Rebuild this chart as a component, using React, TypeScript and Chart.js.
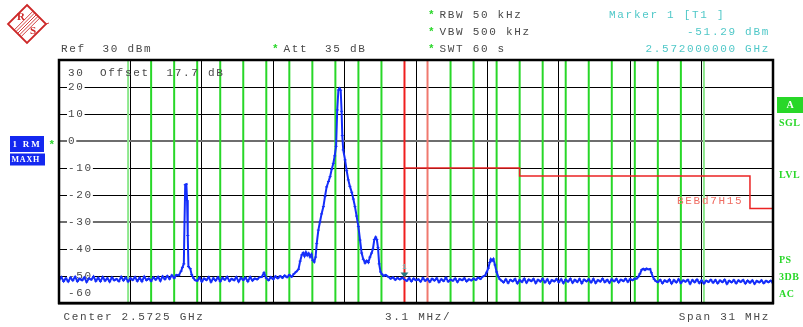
import { useEffect, useRef } from "react";
import { Chart, registerables } from "chart.js";
Chart.register(...registerables);

// ---- axes (MHz / dBm) ----
const FREQ_START = 2557.0;
const FREQ_STOP = 2588.0;
const LEVEL_MIN = -60;
const LEVEL_MAX = 30;
const gridFreqs = [2557, 2560.1, 2563.2, 2566.3, 2569.4, 2572.5, 2575.6, 2578.7, 2581.8, 2584.9, 2588];
const levelTickLabels = ["30", "20", "10", "0", "-10", "-20", "-30", "-40", "-50", "-60"];

// ---- display lines ----
const channelLines = [2560, 2561, 2562, 2563, 2564, 2565, 2566, 2567, 2568, 2569, 2570, 2571,
  2574, 2575, 2576, 2577, 2578, 2579, 2580, 2581, 2582, 2583, 2584, 2585];
const faintChannelLines = [2560, 2585];
const markerFreq = 2572;
const markerLevel = -51.29;
const secondRedLine = 2573;
const limitFreq = [2572, 2577, 2577, 2587, 2587, 2588];
const limitLevel = [-10, -10, -13, -13, -25, -25];

// ---- trace: noise stretches, sampled every 0.1 MHz ----
const SWEEP_STEP = 0.1;
const noiseAStart = 2557.0;
const noiseA = [
  -51.5, -50.4, -52.0, -50.8, -52.1, -50.6, -51.7, -50.3, -52.0, -51.0,
  -51.6, -50.5, -52.2, -50.9, -51.4, -50.2, -51.9, -50.7, -52.0, -50.4,
  -51.8, -50.8, -52.1, -50.5, -51.6, -51.1, -52.0, -50.3, -51.7, -50.6,
  -52.1, -50.8, -51.5, -50.4, -51.9, -50.7, -52.0, -50.2, -51.6, -50.9,
  -51.9, -50.5, -51.4, -50.3, -51.8, -50.1, -51.2, -50.0, -51.1, -49.7,
  -50.8, -49.6,
];
const noiseBStart = 2563.0;
const noiseB = [
  -51.8, -50.6, -52.1, -50.9, -51.5, -50.4, -52.2, -50.8, -51.7, -50.5,
  -52.0, -50.7, -51.4, -50.3, -51.9, -51.0, -51.6, -50.4, -52.1, -50.7,
  -51.5, -50.6, -52.0, -50.4, -51.7, -50.9, -51.3, -50.5, -50.4, -48.8,
  -50.8, -51.6, -50.4, -51.2, -50.1, -50.9, -50.0, -50.7, -49.8, -50.5,
  -49.6, -50.3, -49.2, -48.4,
];
const noiseCStart = 2571.3;
const noiseC = [
  -50.3, -51.0, -50.5, -51.4, -50.7, -51.3, -50.6, -51.3, -51.8, -50.8,
  -52.0, -50.9, -51.6, -51.2, -52.1, -50.7, -51.8, -51.1, -52.2, -51.0,
  -51.7, -50.8, -52.3, -51.2, -51.9, -50.6, -52.1, -51.3, -51.8, -50.9,
  -52.2, -51.1, -51.6, -50.8, -52.0, -51.2, -51.7, -50.9, -51.5, -50.6,
  -51.1, -50.2,
];
const noiseDStart = 2576.3;
const noiseD = [
  -52.4, -51.2, -52.6, -51.4, -52.0, -51.1, -52.7, -51.5, -52.2, -51.0,
  -52.5, -51.3, -51.9, -51.1, -52.6, -51.4, -52.1, -51.0, -52.4, -51.2,
  -52.7, -51.5, -52.0, -51.1, -52.3, -51.2, -52.6, -51.3, -52.1, -51.0,
  -52.5, -51.4, -52.2, -51.1, -52.7, -51.3, -52.0, -51.2, -52.4, -51.1,
  -52.6, -51.5, -52.1, -51.0, -52.3, -51.4, -52.5, -51.2, -52.0, -51.1,
  -52.4, -51.3, -51.9, -51.0, -52.2, -51.1, -51.6, -50.9,
];
const noiseEStart = 2583.0;
const noiseE = [
  -52.3, -51.4, -52.7, -51.6, -52.2, -51.3, -52.8, -51.5, -52.4, -51.2,
  -52.6, -51.6, -52.1, -51.4, -52.9, -51.5, -52.3, -51.3, -52.6, -51.6,
  -52.8, -51.7, -52.2, -51.4, -52.5, -51.5, -52.7, -51.6, -52.3, -51.4,
  -52.9, -51.7, -52.4, -51.5, -52.7, -51.6, -52.2, -51.5, -52.8, -51.7,
  -52.5, -51.6, -52.9, -51.8, -52.4, -51.6, -52.7, -51.8, -52.3, -51.7,
  -52.6,
];

// ---- trace: signals as [MHz, dBm] ----
const spike1: number[][] = [
  [2562.2, -49.8], [2562.3, -48.2], [2562.36, -46.8], [2562.42, -45.5], [2562.45, -30],
  [2562.48, -16.2], [2562.53, -16.0], [2562.56, -22], [2562.59, -35], [2562.62, -46.5],
  [2562.7, -47.3], [2562.76, -49.5], [2562.84, -50.8], [2562.92, -51.6],
];
const mainSignal: number[][] = [
  [2567.4, -47.5], [2567.47, -44.5], [2567.54, -42.2], [2567.6, -41.4], [2567.66, -42.6],
  [2567.72, -41.2], [2567.78, -42.4], [2567.84, -41.6], [2567.9, -42.9], [2567.96, -42.0],
  [2568.02, -44.2], [2568.08, -44.8], [2568.14, -43.0], [2568.19, -38], [2568.26, -33],
  [2568.33, -30], [2568.4, -27], [2568.48, -24.3], [2568.55, -20.5], [2568.62, -17],
  [2568.7, -15], [2568.77, -13.2], [2568.84, -10.5], [2568.91, -8.3], [2568.97, -5.5],
  [2569.03, -2], [2569.08, 11.5], [2569.13, 18.9], [2569.18, 19.5], [2569.23, 18.8],
  [2569.27, 11], [2569.3, 2], [2569.34, -3.3], [2569.42, -7], [2569.49, -11],
  [2569.56, -14.4], [2569.63, -16.8], [2569.71, -19], [2569.78, -21.5], [2569.85, -24.3],
  [2569.92, -27.8], [2570.0, -31.7], [2570.07, -36.7], [2570.14, -41.5], [2570.21, -43.8],
  [2570.29, -45.2], [2570.36, -44.3], [2570.43, -45], [2570.5, -43], [2570.57, -41.5],
  [2570.63, -40], [2570.69, -36.5], [2570.75, -35.6], [2570.8, -36.5], [2570.85, -39.5],
  [2570.9, -45.5], [2570.96, -48.5], [2571.02, -49.3], [2571.1, -50.0], [2571.18, -49.6],
];
const bump1: number[][] = [
  [2575.5, -49.8], [2575.57, -48.6], [2575.64, -47.1], [2575.7, -45.0], [2575.75, -43.8],
  [2575.8, -44.4], [2575.86, -43.7], [2575.93, -45.9], [2576.0, -48.5], [2576.07, -50.2],
  [2576.14, -51.2], [2576.22, -51.8],
];
const bump2: number[][] = [
  [2582.08, -51.0], [2582.15, -50.3], [2582.22, -49.2], [2582.3, -47.7], [2582.37, -47.3],
  [2582.44, -47.8], [2582.51, -47.2], [2582.58, -47.6], [2582.66, -47.4], [2582.72, -48.8],
  [2582.78, -50.2], [2582.84, -51.2], [2582.9, -51.8],
];

const sweep = (start: number, levels: number[]) =>
  levels.map((y, i) => ({ x: Math.round((start + i * SWEEP_STEP) * 100) / 100, y }));
const pairs = (arr: number[][]) => arr.map(([x, y]) => ({ x, y }));

const MONO = "Liberation Mono, DejaVu Sans Mono, monospace";
const GREY = "rgb(72,72,72)";
const CYAN = "rgb(80,200,200)";
const GREEN = "rgb(40,215,40)";
const BLUE = "rgb(20,45,250)";

function drawText(ctx: CanvasRenderingContext2D, s: string, x: number, y: number, color: string,
  font = `11px ${MONO}`, spacing = "1.7px", align: "left" | "right" | "center" = "left") {
  ctx.save();
  ctx.font = font;
  (ctx as any).letterSpacing = spacing;
  ctx.fillStyle = color;
  ctx.textBaseline = "middle";
  const w = ctx.measureText(s).width;
  let lx = x;
  if (align === "right") lx = x - w;
  if (align === "center") lx = x - w / 2;
  ctx.textAlign = "left";
  ctx.fillText(s, lx, y);
  ctx.restore();
  return w;
}

const overlayPlugin = {
  id: "rsOverlay",
  beforeDatasetsDraw(chart: any) {
    const { ctx, chartArea: a, scales } = chart;
    const xs = scales.x, ys = scales.y;
    ctx.save();
    levelTickLabels.forEach((lab) => {
      const v = Number(lab);
      let y = ys.getPixelForValue(v);
      y = Math.max(a.top + 13, Math.min(a.bottom - 10, y));
      ctx.font = `11px ${MONO}`;
      (ctx as any).letterSpacing = "1.7px";
      const w = ctx.measureText(lab).width;
      ctx.fillStyle = "#fff";
      ctx.fillRect(a.left + 8, y - 5, w + 1, 10);
      drawText(ctx, lab, a.left + 9, y, GREY);
    });
    channelLines.forEach((f) => {
      const x = xs.getPixelForValue(f);
      ctx.strokeStyle = faintChannelLines.includes(f) ? "rgb(140,232,140)" : GREEN;
      ctx.lineWidth = 2;
      ctx.beginPath();
      ctx.moveTo(x, a.top);
      ctx.lineTo(x, a.bottom);
      ctx.stroke();
    });
    const rx = xs.getPixelForValue(markerFreq);
    ctx.strokeStyle = "rgb(240,30,30)";
    ctx.lineWidth = 2;
    ctx.beginPath(); ctx.moveTo(rx, a.top); ctx.lineTo(rx, a.bottom); ctx.stroke();
    const rx2 = xs.getPixelForValue(secondRedLine);
    ctx.strokeStyle = "rgb(240,120,110)";
    ctx.beginPath(); ctx.moveTo(rx2, a.top); ctx.lineTo(rx2, a.bottom); ctx.stroke();
    ctx.restore();
  },
  afterDatasetsDraw(chart: any) {
    const { ctx, chartArea: a, scales } = chart;
    const xs = scales.x, ys = scales.y;
    const mx = xs.getPixelForValue(markerFreq);
    const my = ys.getPixelForValue(markerLevel);
    ctx.save();
    ctx.fillStyle = "rgb(40,120,130)";
    ctx.beginPath();
    ctx.moveTo(mx - 4, my - 7); ctx.lineTo(mx + 4, my - 7); ctx.lineTo(mx, my - 2); ctx.closePath();
    ctx.fill();
    drawText(ctx, "1", mx, my - 13, CYAN, `8px ${MONO}`, "0px", "center");
    ctx.strokeStyle = "#000";
    ctx.lineWidth = 2.5;
    ctx.strokeRect(a.left, a.top, a.right - a.left, a.bottom - a.top);
    ctx.fillStyle = "#000";
    ctx.fillRect(a.left - 1, a.bottom, a.right - a.left + 2, 1.5);
    ctx.restore();
  },
  afterDraw(chart: any) {
    const { ctx } = chart;
    ctx.save();
    drawText(ctx, "Ref  30 dBm", 61, 49, GREY);
    drawText(ctx, "*", 272, 49, GREEN, `bold 11px ${MONO}`, "0px");
    drawText(ctx, "Att  35 dB", 283.5, 49, GREY);
    drawText(ctx, "*", 428, 15, GREEN, `bold 11px ${MONO}`, "0px");
    drawText(ctx, "RBW 50 kHz", 439.5, 15, GREY);
    drawText(ctx, "*", 428, 32, GREEN, `bold 11px ${MONO}`, "0px");
    drawText(ctx, "VBW 500 kHz", 439.5, 32.5, GREY);
    drawText(ctx, "*", 428, 49, GREEN, `bold 11px ${MONO}`, "0px");
    drawText(ctx, "SWT 60 s", 439.5, 49, GREY);
    drawText(ctx, "Marker 1 [T1 ]", 609, 15, CYAN);
    drawText(ctx, "-51.29 dBm", 770, 32.5, CYAN, `11px ${MONO}`, "1.7px", "right");
    drawText(ctx, "2.572000000 GHz", 770, 49, CYAN, `11px ${MONO}`, "1.7px", "right");
    drawText(ctx, "Offset  17.7 dB", 100, 73, GREY);
    drawText(ctx, "BEBd7H15", 677, 201, "rgb(240,110,100)");
    drawText(ctx, "Center 2.5725 GHz", 63.5, 317, GREY);
    drawText(ctx, "3.1 MHz/", 385, 317, GREY);
    drawText(ctx, "Span 31 MHz", 770, 317, GREY, `11px ${MONO}`, "1.7px", "right");
    ctx.fillStyle = "rgb(20,40,240)";
    ctx.fillRect(10, 136, 34, 16);
    ctx.fillRect(10, 153.5, 35, 12);
    drawText(ctx, "1 RM", 12.5, 144.5, "#fff", "bold 9px Liberation Serif", "1.8px");
    drawText(ctx, "MAXH", 11.5, 159.5, "#fff", "bold 8px Liberation Serif", "0.8px");
    drawText(ctx, "*", 48.5, 145, GREEN, `bold 11px ${MONO}`, "0px");
    ctx.fillStyle = GREEN;
    ctx.fillRect(777, 97, 26, 16);
    drawText(ctx, "A", 790, 105.5, "#fff", "bold 10px Liberation Serif", "0px", "center");
    const sf = "bold 10px Liberation Serif";
    drawText(ctx, "SGL", 779, 123, GREEN, sf, "0.5px");
    drawText(ctx, "LVL", 779, 175.5, GREEN, sf, "0.5px");
    drawText(ctx, "PS", 779, 260, GREEN, sf, "0.5px");
    drawText(ctx, "3DB", 779, 277, GREEN, sf, "0.5px");
    drawText(ctx, "AC", 779, 294, GREEN, sf, "0.5px");
    const cx = 27, cy = 24, r = 19;
    ctx.strokeStyle = "rgb(205,40,40)";
    ctx.lineWidth = 1.8;
    ctx.beginPath();
    ctx.moveTo(cx, cy - r); ctx.lineTo(cx + r, cy); ctx.lineTo(cx, cy + r); ctx.lineTo(cx - r, cy); ctx.closePath();
    ctx.stroke();
    ctx.lineWidth = 0.9;
    for (let k = -2; k <= 2; k++) {
      const o = k * 1.7;
      ctx.beginPath();
      ctx.moveTo(cx - r / 2 + o, cy + r / 2 + o);
      ctx.lineTo(cx + r / 2 + o, cy - r / 2 + o);
      ctx.stroke();
    }
    ctx.beginPath(); ctx.moveTo(cx + r, cy); ctx.lineTo(cx + r + 3, cy - 1); ctx.stroke();
    drawText(ctx, "R", 21, 17, "rgb(205,40,40)", "bold 11px Liberation Serif", "0px", "center");
    drawText(ctx, "S", 33, 31, "rgb(205,40,40)", "bold 11px Liberation Serif", "0px", "center");
    ctx.restore();
  },
};

export default function App() {
  const ref = useRef<HTMLCanvasElement>(null);
  useEffect(() => {
    if (!ref.current) return;
    const trace = [
      ...sweep(noiseAStart, noiseA),
      ...pairs(spike1),
      ...sweep(noiseBStart, noiseB),
      ...pairs(mainSignal),
      ...sweep(noiseCStart, noiseC),
      ...pairs(bump1),
      ...sweep(noiseDStart, noiseD),
      ...pairs(bump2),
      ...sweep(noiseEStart, noiseE),
    ];
    const limit = limitFreq.map((x, i) => ({ x, y: limitLevel[i] }));
    const chart = new Chart(ref.current, {
      type: "line",
      data: {
        datasets: [
          {
            data: limit,
            borderColor: "rgb(235,35,35)",
            borderWidth: 1.5,
            pointRadius: 0,
            tension: 0,
          },
          {
            data: trace,
            borderColor: BLUE,
            borderWidth: 2,
            pointStyle: "line",
            pointRadius: 1.5,
            pointBorderWidth: 1,
            pointBorderColor: BLUE,
            tension: 0,
          },
        ],
      },
      options: {
        animation: false,
        responsive: false,
        devicePixelRatio: 1,
        layout: { padding: { left: 59, right: 30, top: 60, bottom: 24 } },
        plugins: { legend: { display: false }, tooltip: { enabled: false } },
        scales: {
          x: {
            type: "linear",
            min: FREQ_START,
            max: FREQ_STOP,
            afterBuildTicks: (s: any) => { s.ticks = gridFreqs.map((value) => ({ value })); },
            ticks: { display: false },
            grid: { color: "#000", lineWidth: 1, drawTicks: false },
            border: { display: false },
          },
          y: {
            type: "linear",
            min: LEVEL_MIN,
            max: LEVEL_MAX,
            ticks: { display: false, stepSize: 10 },
            grid: {
              drawTicks: false,
              color: (c: any) => (c.tick && (c.tick.value === 0 || c.tick.value === -30) ? "rgb(110,110,110)" : "#000"),
              lineWidth: (c: any) => (c.tick && (c.tick.value === 0 || c.tick.value === -30) ? 2 : 1),
            },
            border: { display: false },
          },
        },
      },
      plugins: [overlayPlugin],
    });
    return () => chart.destroy();
  }, []);
  return (
    <div style={{ position: "absolute", left: 0, top: 0, width: 803, height: 327, background: "#fff" }}>
      <canvas ref={ref} width={803} height={327} style={{ display: "block" }} />
    </div>
  );
}
